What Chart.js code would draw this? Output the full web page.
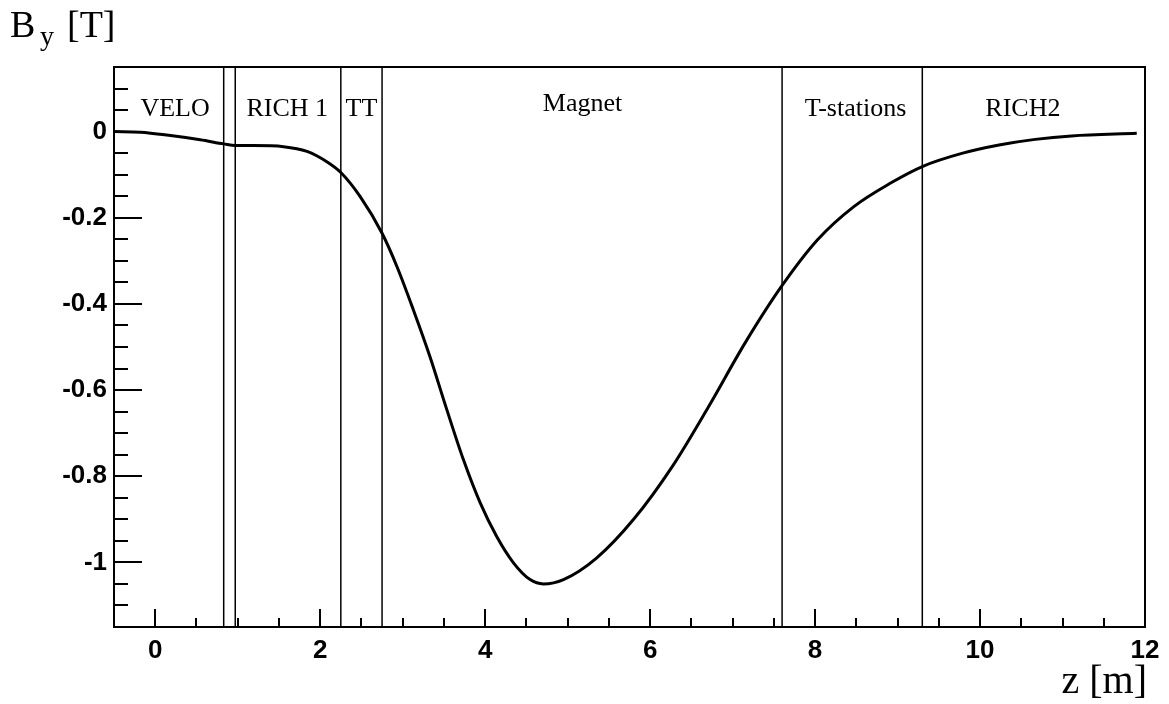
<!DOCTYPE html>
<html>
<head>
<meta charset="utf-8">
<script src="https://cdn.jsdelivr.net/npm/chart.js@4.4.1/dist/chart.umd.min.js"></script>
<style>
  html, body { margin: 0; padding: 0; background: #fff; }
  #wrap { position: relative; width: 1169px; height: 704px; }
</style>
</head>
<body>
<div id="wrap"><canvas id="bfield"></canvas></div>
<script>
// field map: z in metres, By in tesla
const zValues = [-0.5, -0.18, 0.14, 0.545, 0.83, 0.97, 1.19, 1.555, 1.84, 2.08, 2.25, 2.485, 2.75,
  2.93, 3.13, 3.33, 3.536, 3.737, 3.94, 4.14, 4.343, 4.545, 4.707, 4.95, 5.35, 5.8,
  6.27, 6.71, 7.15, 7.59, 8.03, 8.47, 8.91, 9.3, 9.79, 10.23, 10.67, 11.11, 11.9];
const byValues = [0, -0.0015, -0.008, -0.019, -0.0285, -0.0325, -0.0325, -0.035, -0.046, -0.07, -0.095, -0.151, -0.236,
  -0.313, -0.414, -0.522, -0.646, -0.762, -0.862, -0.94, -1.001, -1.04, -1.05, -1.04, -0.99, -0.9,
  -0.777, -0.638, -0.491, -0.36, -0.251, -0.174, -0.12, -0.081, -0.05, -0.031, -0.018, -0.01, -0.004];

// detector boundaries (vertical lines) and region names
const detectorEdges = [0.83, 0.97, 2.25, 2.75, 7.6, 9.3];
const regionNames = ['VELO', 'RICH 1', 'TT', 'Magnet', 'T-stations', 'RICH2'];
const regionCenters = [0.24, 1.6, 2.5, 5.18, 8.49, 10.52];
const regionLabelY = [0.036, 0.036, 0.036, 0.047, 0.036, 0.036];

// axes
const xMin = -0.5, xMax = 12;
const yMin = -1.15, yMax = 0.15;
const xMajorTicks = [0, 2, 4, 6, 8, 10, 12];
const yMajorTicks = [0, -0.2, -0.4, -0.6, -0.8, -1];
const xMinorStep = 0.5;
const yMinorStep = 0.05;

const curve = zValues.map((z, i) => ({ x: z, y: byValues[i] }));

const edgeSets = detectorEdges.map((z) => ({
  data: [{ x: z, y: yMin }, { x: z, y: yMax }],
  showLine: true,
  borderColor: '#000',
  borderWidth: 1.5,
  pointRadius: 0,
  tension: 0
}));

// ROOT style frame, inside ticks, labels and titles
const rootStyle = {
  id: 'rootStyle',
  afterDatasetsDraw(chart) {
    const ctx = chart.ctx;
    const a = chart.chartArea;
    const xs = chart.scales.x;
    const ys = chart.scales.y;
    ctx.save();
    ctx.strokeStyle = '#000';

    // ticks
    ctx.lineWidth = 2;
    ctx.beginPath();
    for (let v = xMin; v <= xMax + 1e-6; v += xMinorStep) {
      if (v <= xMin + 1e-6 || v >= xMax - 1e-6) continue;
      const px = Math.round(xs.getPixelForValue(v));
      const major = xMajorTicks.some((t) => Math.abs(t - v) < 1e-6);
      ctx.moveTo(px, a.bottom);
      ctx.lineTo(px, a.bottom - (major ? 18 : 9));
    }
    for (let v = yMin; v <= yMax + 1e-6; v += yMinorStep) {
      if (v <= yMin + 1e-6 || v >= yMax - 1e-6) continue;
      const py = Math.round(ys.getPixelForValue(v));
      const major = yMajorTicks.some((t) => Math.abs(t - v) < 1e-6);
      ctx.moveTo(a.left, py);
      ctx.lineTo(a.left + (major ? 28 : 14), py);
    }
    ctx.stroke();

    // frame
    ctx.lineWidth = 2;
    ctx.strokeRect(a.left, a.top, a.right - a.left, a.bottom - a.top);

    // region names
    ctx.fillStyle = '#000';
    ctx.font = '26px "Liberation Serif", "Times New Roman", serif';
    ctx.textAlign = 'center';
    ctx.textBaseline = 'alphabetic';
    regionNames.forEach((name, i) => {
      ctx.fillText(name, xs.getPixelForValue(regionCenters[i]), ys.getPixelForValue(regionLabelY[i]));
    });

    // axis titles
    ctx.textAlign = 'left';
    ctx.font = '38px "Liberation Serif", "Times New Roman", serif';
    ctx.fillText('B', 10, 37);
    ctx.font = '28px "Liberation Serif", "Times New Roman", serif';
    ctx.fillText('y', 40, 45);
    ctx.font = '38px "Liberation Serif", "Times New Roman", serif';
    ctx.fillText('[T]', 67, 37);
    ctx.textAlign = 'right';
    ctx.font = '40px "Liberation Serif", "Times New Roman", serif';
    ctx.fillText('z [m]', 1147, 693);
    ctx.restore();
  }
};

const tickFont = { family: '"Liberation Sans", Arial, sans-serif', size: 26, weight: 'bold' };

new Chart(document.getElementById('bfield'), {
  type: 'scatter',
  data: {
    datasets: [{
      data: curve,
      showLine: true,
      borderColor: '#000',
      borderWidth: 3,
      pointRadius: 0,
      cubicInterpolationMode: 'monotone'
    }].concat(edgeSets)
  },
  options: {
    responsive: true,
    maintainAspectRatio: false,
    animation: false,
    layout: { padding: { left: 0, top: 67, right: 24, bottom: 0 } },
    plugins: { legend: { display: false }, tooltip: { enabled: false } },
    scales: {
      x: {
        type: 'linear',
        min: xMin,
        max: xMax,
        grid: { display: false, drawTicks: false },
        border: { display: false },
        afterBuildTicks: (s) => { s.ticks = xMajorTicks.map((v) => ({ value: v })); },
        afterFit: (s) => { s.height = 77; },
        ticks: { color: '#000', font: tickFont, padding: 8, maxRotation: 0, autoSkip: false,
          callback: (v) => String(v) }
      },
      y: {
        type: 'linear',
        min: yMin,
        max: yMax,
        grid: { display: false, drawTicks: false },
        border: { display: false },
        afterBuildTicks: (s) => { s.ticks = yMajorTicks.map((v) => ({ value: v })); },
        afterFit: (s) => { s.width = 114; },
        ticks: { color: '#000', font: tickFont, padding: 7, autoSkip: false,
          callback: (v) => String(Math.round(v * 10) / 10) }
      }
    }
  },
  plugins: [rootStyle]
});
</script>
</body>
</html>
